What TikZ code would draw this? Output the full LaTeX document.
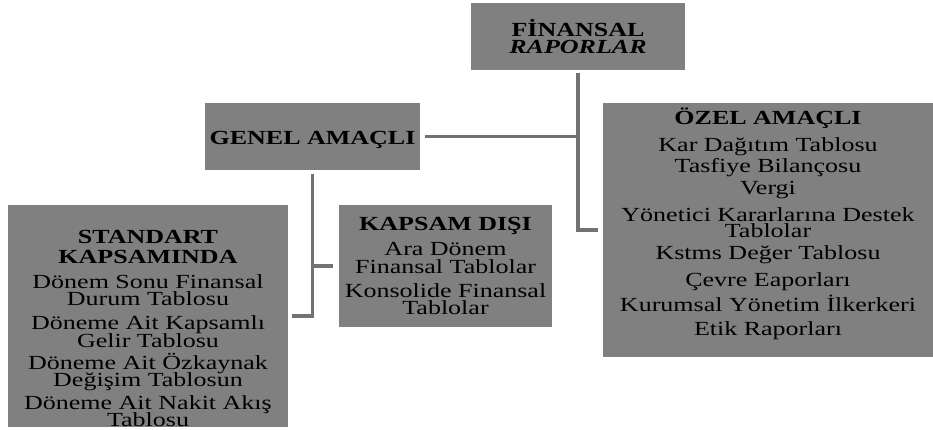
\documentclass[tikz,border=0pt]{standalone}
\usepackage{fontspec}
\setmainfont[FakeStretch=1.3]{Liberation Serif}
\usetikzlibrary{positioning}
\definecolor{boxgray}{HTML}{808080}
\definecolor{linegray}{HTML}{727272}
\newcommand{\reportfont}{\fontsize{20}{15}\selectfont\lineskiplimit=-100pt\relax}

\begin{document}
\begin{tikzpicture}[x=1pt,y=1pt,node distance=30pt,
        report box/.style={fill=boxgray,align=center,inner sep=1pt,outer sep=0pt,font=\reportfont},
        link/.style={draw=linegray,line width=3.5pt}]

        \useasboundingbox (0,0) rectangle (933,-430);

        % Define boxes
        \node[report box,minimum width=214pt,minimum height=67pt] (fin) at (578,-36.5)
            {\textbf{FİNANSAL}\\[2pt]\textbf{\textit{RAPORLAR}}};
        \node[report box,minimum width=215pt,minimum height=67pt] (genel) [below left=33pt and 51pt of fin]
            {\rule{0pt}{20pt}\textbf{GENEL AMAÇLI}};
        \node[report box,minimum width=330pt,minimum height=254pt] (ozel) [below right=33pt and -82pt of fin]
            {\textbf{ÖZEL AMAÇLI}\\[12pt]Kar Dağıtım Tablosu\\[6pt]Tasfiye Bilançosu\\[7pt]Vergi\\[12pt]
             Yönetici Kararlarına Destek\\[1pt]Tablolar\\[7pt]Kstms Değer Tablosu\\[12pt]Çevre Eaporları\\[10pt]
             Kurumsal Yönetim İlkerkeri\\[9pt]Etik Raporları\rule[-17pt]{0pt}{0pt}};
        \node[report box,minimum width=280pt,minimum height=220pt] (std) [below left=35pt and -83pt of genel]
            {\rule{0pt}{37pt}\textbf{STANDART}\\[5pt]\textbf{KAPSAMINDA}\\[10pt]Dönem Sonu Finansal\\[2pt]Durum Tablosu\\[9pt]
             Döneme Ait Kapsamlı\\[3pt]Gelir Tablosu\\[7pt]Döneme Ait Özkaynak\\[2pt]Değişim Tablosun\\[8pt]
             Döneme Ait Nakit Akış\\[2pt]Tablosu};
        \node[report box,minimum width=213pt,minimum height=122pt] (disi) [below right=35pt and -81pt of genel]
            {\textbf{KAPSAM DIŞI}\\[10pt]Ara Dönem\\[3pt]Finansal Tablolar\\[9pt]Konsolide Finansal\\[2pt]Tablolar};

        % Draw connectors
        \draw[link,shorten <=3pt,shorten >=5pt] (fin.south) |- (ozel.west);
        \draw[link,shorten <=5pt] (genel.east) -- (genel.east -| fin.south);
        \draw[link,shorten <=4pt,shorten >=4pt] (genel.south) |- (std.east);
        \draw[link,shorten >=6pt] (genel.south |- disi.west) -- (disi.west);

        \end{tikzpicture}
\end{document}
